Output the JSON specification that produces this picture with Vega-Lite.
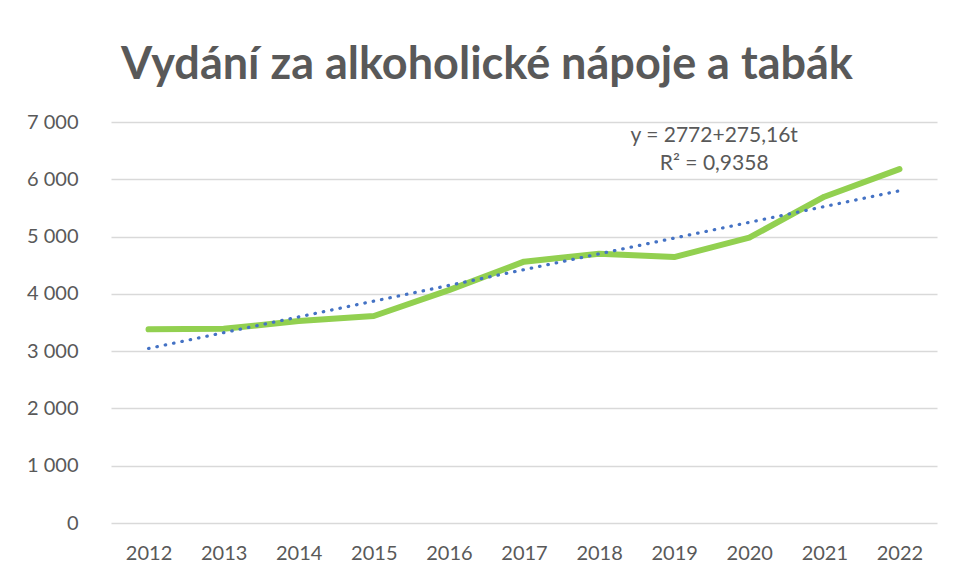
{
  "$schema": "https://vega.github.io/schema/vega-lite/v6.json",
  "width": 826,
  "height": 401,
  "autosize": "none",
  "padding": {"left": 111, "top": 122, "right": 16, "bottom": 58},
  "background": "white",
  "title": {
    "text": "Vydání za alkoholické nápoje a tabák",
    "font": "Lato",
    "fontSize": 45,
    "fontWeight": "bold",
    "color": "#595959",
    "anchor": "middle",
    "dx": -37,
    "offset": 24
  },
  "config": {
    "view": {"stroke": null},
    "font": "Lato"
  },
  "datasets": {
    "main": [
      {"year": "2012", "value": 3380, "trend": 3047.16},
      {"year": "2013", "value": 3390, "trend": 3322.32},
      {"year": "2014", "value": 3525, "trend": 3597.48},
      {"year": "2015", "value": 3613, "trend": 3872.64},
      {"year": "2016", "value": 4065, "trend": 4147.8},
      {"year": "2017", "value": 4562, "trend": 4422.96},
      {"year": "2018", "value": 4702, "trend": 4698.12},
      {"year": "2019", "value": 4642, "trend": 4973.28},
      {"year": "2020", "value": 4981, "trend": 5248.44},
      {"year": "2021", "value": 5696, "trend": 5523.6},
      {"year": "2022", "value": 6178, "trend": 5798.76}
    ],
    "annotation": [
      {"year": "2019", "value": 6760, "label": ["y = 2772+275,16t", "R² = 0,9358"]}
    ]
  },
  "encoding": {
    "x": {
      "field": "year",
      "type": "ordinal",
      "scale": {"type": "point", "padding": 0.5},
      "axis": {
        "title": null,
        "labelAngle": 0,
        "labelFont": "Lato",
        "labelFontSize": 20,
        "labelColor": "#595959",
        "labelPadding": 20,
        "domain": false,
        "ticks": false,
        "grid": false
      }
    }
  },
  "layer": [
    {
      "data": {"name": "main"},
      "mark": {"type": "line", "color": "#92D050", "strokeWidth": 6, "strokeCap": "round", "strokeJoin": "round"},
      "encoding": {
        "y": {
          "field": "value",
          "type": "quantitative",
          "scale": {"domain": [0, 7000], "nice": false},
          "axis": {
            "title": null,
            "values": [0, 1000, 2000, 3000, 4000, 5000, 6000, 7000],
            "labelExpr": "replace(format(datum.value, ','), ',', ' ')",
            "labelFont": "Lato",
            "labelFontSize": 20,
            "labelColor": "#595959",
            "labelPadding": 33,
            "domain": false,
            "ticks": false,
            "grid": true,
            "gridColor": "#d9d9d9",
            "gridWidth": 1.5
          }
        }
      }
    },
    {
      "data": {"name": "main"},
      "mark": {"type": "line", "color": "#4472C4", "strokeWidth": 3.2, "strokeCap": "round", "strokeDash": [0.5, 8]},
      "encoding": {
        "y": {"field": "trend", "type": "quantitative"}
      }
    },
    {
      "data": {"name": "annotation"},
      "mark": {
        "type": "text",
        "font": "Lato",
        "fontSize": 21,
        "fontWeight": "normal",
        "fill": "#595959",
        "align": "center",
        "baseline": "middle",
        "lineHeight": 28,
        "dx": 40,
        "dy": 0
      },
      "encoding": {
        "y": {"field": "value", "type": "quantitative"},
        "text": {"field": "label"}
      }
    }
  ]
}
